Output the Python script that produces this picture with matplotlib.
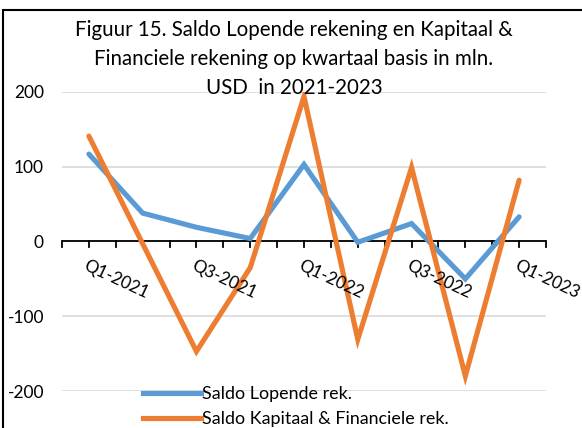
import matplotlib
matplotlib.use("Agg")
import matplotlib.pyplot as plt
from matplotlib.patches import Rectangle
from matplotlib.lines import Line2D

categories = ["Q1-2021", "Q2-2021", "Q3-2021", "Q4-2021", "Q1-2022",
              "Q2-2022", "Q3-2022", "Q4-2022", "Q1-2023"]
lopende = [117, 38, 19, 4, 103, -1, 24, -50, 33]
kapitaal = [141, -3, -147, -35, 194, -131, 99, -180, 82]
series_names = ["Saldo Lopende rek.", "Saldo Kapitaal & Financiele rek."]
title = "Figuur 15. Saldo Lopende rekening en Kapitaal &\nFinanciele rekening op kwartaal basis in mln.\nUSD  in 2021-2023"
yticks = [-200, -100, 0, 100, 200]

plt.rcParams['font.family'] = ['Lato', 'DejaVu Sans']

W, H = 582, 428
fig = plt.figure(figsize=(W / 100, H / 100), dpi=100)
ax = fig.add_axes([62 / W, 1 - 391 / H, (546 - 62) / W, (391 - 92) / H])

blue = "#5B9BD5"
orange = "#ED7D31"
x = list(range(len(categories)))
ax.plot(x, lopende, color=blue, lw=3.7, solid_joinstyle='miter', solid_capstyle='round', zorder=3)
ax.plot(x, kapitaal, color=orange, lw=3.7, solid_joinstyle='miter', solid_capstyle='round', zorder=3)

ax.set_xlim(-0.5, len(categories) - 0.5)
ax.set_ylim(-200, 200)
ax.set_yticks(yticks)
ax.set_yticklabels([str(v) for v in yticks], fontsize=12.5)
ax.tick_params(axis='y', length=0, pad=13)
ax.yaxis.grid(True, color="#D9D9D9", lw=1.2)
ax.set_axisbelow(True)
for s in ax.spines.values():
    s.set_visible(False)

ax.axhline(0, color="black", lw=1.3, zorder=2)
# x ticks: marks at every half category, labels every 2nd category
tick_pos = [i * 0.5 - 0.5 for i in range(2 * len(categories) + 1)]
ax.set_xticks([])
for tp in tick_pos:
    ax.plot([tp, tp], [0, -7], color="black", lw=1.3, zorder=2, clip_on=False)
for i in range(0, len(categories), 2):
    ax.text(i - 0.01, -22, categories[i], rotation=-25, rotation_mode='anchor',
            ha='left', va='top', fontsize=12.3)

fig.text(0.505, 0.953, title, ha='center', va='top', fontsize=14.8, linespacing=1.55)

handles = [Line2D([0], [0], color=blue, lw=3.7), Line2D([0], [0], color=orange, lw=3.7)]
fig.legend(handles, series_names, loc='upper left', bbox_to_anchor=(136 / W, 1 - 379 / H),
           frameon=False, fontsize=12.9, handlelength=3.2, handletextpad=0.1,
           labelspacing=0.5, borderaxespad=0)

fig.patches.append(Rectangle((3 / W, -0.05), 1.2, 1 - 10 / H + 0.05, transform=fig.transFigure,
                             fill=False, edgecolor="black", lw=1.5))

fig.savefig("out.png", dpi=100)
